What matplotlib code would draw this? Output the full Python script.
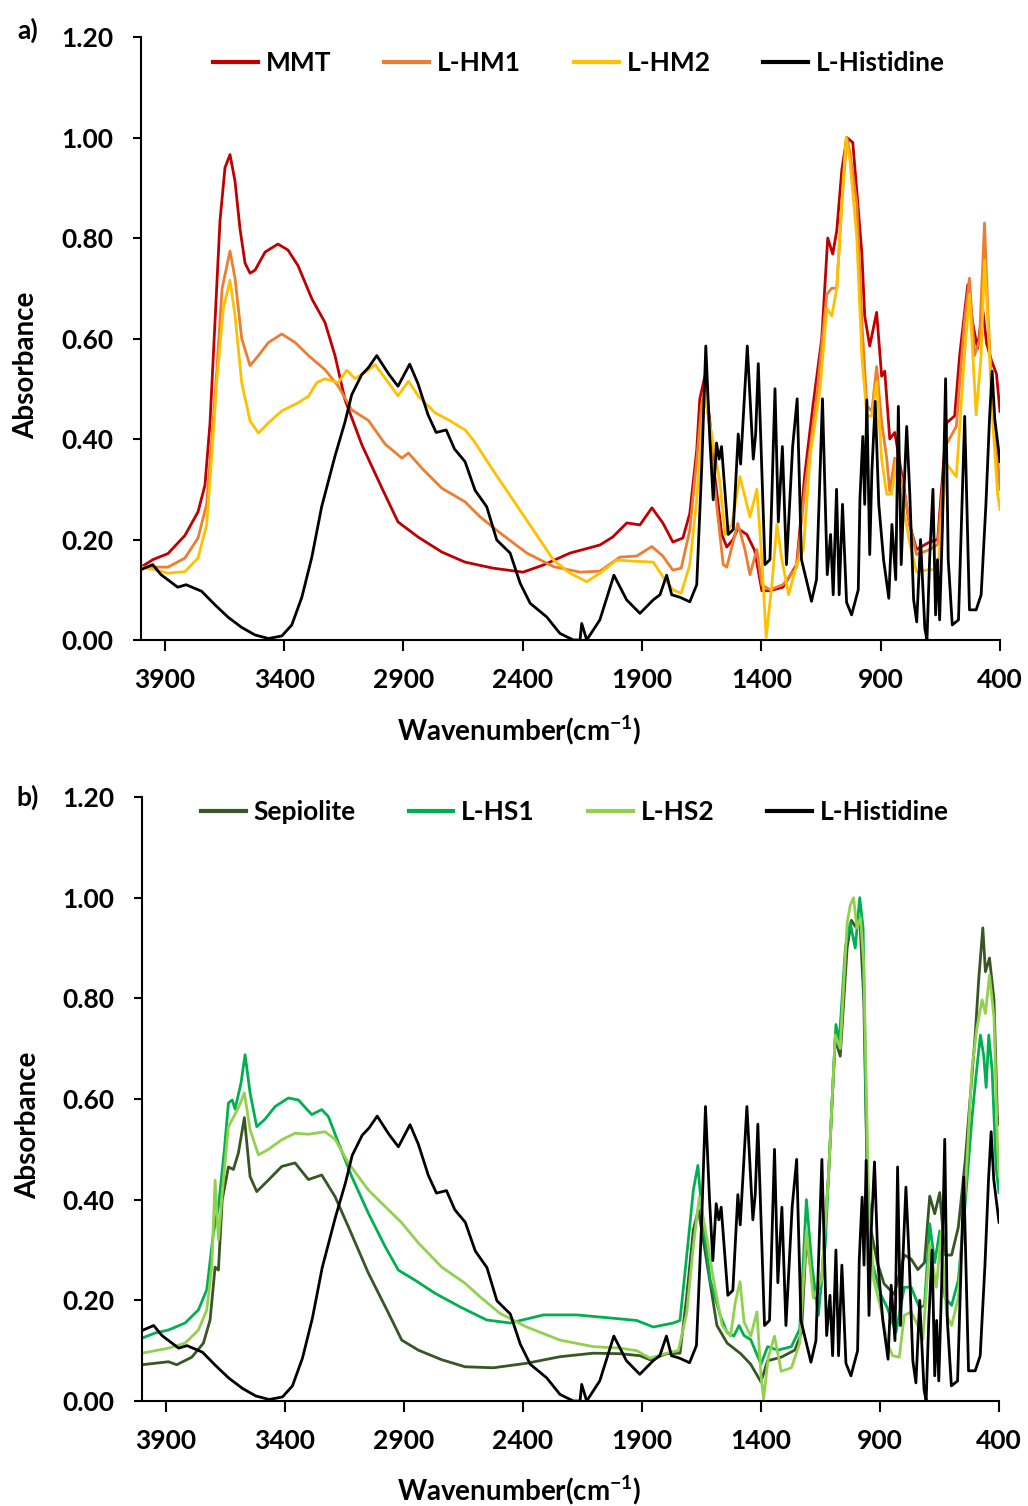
import matplotlib
matplotlib.use("Agg")
import matplotlib.pyplot as plt

plt.rcParams['font.family'] = ['Lato', 'DejaVu Sans']
plt.rcParams['font.weight'] = 'bold'
plt.rcParams['mathtext.fontset'] = 'custom'
plt.rcParams['mathtext.rm'] = 'Lato:bold'
plt.rcParams['mathtext.default'] = 'rm'

# spectra: (wavenumber, absorbance)
mmt = [(4000, 0.145), (3950, 0.160), (3887, 0.172), (3816, 0.208), (3761, 0.255), (3732, 0.308),
       (3711, 0.430), (3690, 0.632), (3669, 0.834), (3648, 0.940), (3627, 0.966), (3606, 0.913),
       (3585, 0.818), (3564, 0.750), (3543, 0.730), (3522, 0.736), (3480, 0.772), (3426, 0.788),
       (3384, 0.776), (3342, 0.745), (3283, 0.678), (3229, 0.632), (3187, 0.566), (3145, 0.478),
       (3074, 0.388), (2990, 0.302), (2923, 0.235), (2839, 0.205), (2739, 0.175), (2642, 0.155),
       (2525, 0.143), (2399, 0.135), (2315, 0.149), (2202, 0.173), (2077, 0.189), (2023, 0.205),
       (1964, 0.233), (1909, 0.229), (1859, 0.263), (1813, 0.233), (1771, 0.195), (1729, 0.203),
       (1700, 0.252), (1671, 0.378), (1658, 0.480), (1637, 0.525), (1616, 0.435), (1595, 0.325),
       (1566, 0.210), (1545, 0.185), (1519, 0.200), (1499, 0.222), (1461, 0.210), (1428, 0.178),
       (1398, 0.098), (1365, 0.098), (1310, 0.105), (1252, 0.150), (1218, 0.330), (1184, 0.466),
       (1147, 0.600), (1122, 0.800), (1101, 0.768), (1084, 0.815), (1063, 0.935), (1042, 1.000),
       (1017, 0.990), (996, 0.869), (979, 0.770), (967, 0.645), (946, 0.585), (917, 0.652),
       (896, 0.525), (883, 0.535), (862, 0.400), (841, 0.413), (812, 0.330), (779, 0.230),
       (750, 0.180), (695, 0.195), (661, 0.200), (624, 0.432), (590, 0.446), (569, 0.567),
       (535, 0.707), (515, 0.632), (494, 0.580), (473, 0.660), (456, 0.590), (435, 0.555),
       (415, 0.530), (400, 0.455)]

lhm1 = [(4000, 0.145), (3887, 0.145), (3816, 0.163), (3761, 0.203), (3725, 0.270), (3704, 0.397),
        (3683, 0.532), (3660, 0.700), (3627, 0.774), (3606, 0.720), (3578, 0.600), (3543, 0.546),
        (3508, 0.566), (3466, 0.592), (3410, 0.609), (3354, 0.592), (3298, 0.566), (3229, 0.538),
        (3173, 0.505), (3117, 0.458), (3047, 0.437), (2977, 0.390), (2907, 0.362), (2879, 0.372),
        (2823, 0.342), (2739, 0.302), (2642, 0.275), (2579, 0.245), (2495, 0.213), (2383, 0.173),
        (2271, 0.146), (2160, 0.135), (2077, 0.137), (1993, 0.165), (1923, 0.167), (1859, 0.186),
        (1813, 0.167), (1771, 0.139), (1736, 0.143), (1700, 0.219), (1671, 0.358), (1650, 0.470),
        (1637, 0.500), (1616, 0.420), (1595, 0.300), (1560, 0.150), (1545, 0.145), (1499, 0.232),
        (1469, 0.180), (1448, 0.130), (1419, 0.180), (1398, 0.110), (1365, 0.100), (1310, 0.110),
        (1252, 0.145), (1218, 0.300), (1168, 0.486), (1126, 0.688), (1105, 0.700), (1084, 0.700),
        (1063, 0.869), (1042, 1.000), (1029, 0.970), (1000, 0.869), (979, 0.634), (958, 0.466),
        (937, 0.455), (917, 0.544), (896, 0.433), (875, 0.362), (862, 0.296), (841, 0.362),
        (808, 0.315), (778, 0.230), (750, 0.170), (695, 0.180), (661, 0.190), (624, 0.390),
        (583, 0.425), (549, 0.634), (528, 0.720), (507, 0.566), (486, 0.596), (465, 0.830),
        (452, 0.667), (431, 0.466), (410, 0.362), (400, 0.300)]

lhm2 = [(4000, 0.145), (3942, 0.140), (3887, 0.133), (3816, 0.136), (3761, 0.163), (3725, 0.229),
        (3704, 0.362), (3683, 0.512), (3655, 0.660), (3627, 0.716), (3606, 0.646), (3578, 0.512),
        (3543, 0.436), (3508, 0.412), (3466, 0.432), (3410, 0.456), (3342, 0.472), (3298, 0.485),
        (3264, 0.512), (3229, 0.520), (3173, 0.512), (3138, 0.537), (3103, 0.520), (3047, 0.537),
        (3019, 0.548), (2963, 0.512), (2923, 0.486), (2879, 0.515), (2837, 0.485), (2767, 0.452),
        (2711, 0.438), (2642, 0.418), (2607, 0.398), (2525, 0.338), (2441, 0.279), (2356, 0.219),
        (2271, 0.159), (2202, 0.133), (2132, 0.116), (2077, 0.133), (2007, 0.159), (1937, 0.157),
        (1853, 0.155), (1813, 0.126), (1771, 0.100), (1736, 0.093), (1700, 0.150), (1671, 0.279),
        (1650, 0.420), (1637, 0.490), (1602, 0.390), (1574, 0.315), (1552, 0.210), (1524, 0.230),
        (1490, 0.325), (1448, 0.245), (1419, 0.300), (1398, 0.160), (1380, 0.005), (1356, 0.110),
        (1335, 0.230), (1314, 0.160), (1286, 0.090), (1252, 0.150), (1224, 0.180), (1196, 0.365),
        (1154, 0.500), (1126, 0.660), (1105, 0.645), (1084, 0.700), (1063, 0.870), (1045, 1.000),
        (1029, 0.955), (1000, 0.800), (979, 0.566), (958, 0.446), (937, 0.446), (917, 0.514),
        (896, 0.360), (875, 0.290), (854, 0.290), (833, 0.360), (808, 0.270), (779, 0.195),
        (750, 0.135), (700, 0.140), (661, 0.140), (624, 0.350), (583, 0.325), (549, 0.566),
        (528, 0.688), (500, 0.448), (479, 0.566), (465, 0.755), (452, 0.646), (431, 0.440),
        (410, 0.290), (400, 0.260)]

histidine = [(4000, 0.140), (3951, 0.150), (3916, 0.130), (3846, 0.105), (3811, 0.110), (3746, 0.097),
             (3690, 0.070), (3634, 0.045), (3578, 0.025), (3522, 0.010), (3466, 0.003), (3410, 0.008),
             (3368, 0.030), (3326, 0.085), (3284, 0.165), (3243, 0.265), (3187, 0.366), (3145, 0.434),
             (3117, 0.488), (3075, 0.528), (3047, 0.542), (3012, 0.566), (2963, 0.530), (2923, 0.505),
             (2874, 0.549), (2839, 0.510), (2797, 0.448), (2763, 0.413), (2721, 0.418), (2686, 0.380),
             (2642, 0.355), (2600, 0.298), (2551, 0.265), (2509, 0.199), (2453, 0.173), (2411, 0.113),
             (2369, 0.073), (2300, 0.046), (2244, 0.013), (2188, 0.000), (2160, 0.000), (2153, 0.033),
             (2132, 0.000), (2077, 0.040), (2018, 0.129), (1965, 0.080), (1909, 0.053), (1853, 0.080),
             (1825, 0.090), (1797, 0.129), (1776, 0.090), (1741, 0.085), (1700, 0.076), (1671, 0.110),
             (1650, 0.345), (1633, 0.585), (1616, 0.400), (1602, 0.279), (1588, 0.392), (1577, 0.360),
             (1567, 0.385), (1539, 0.210), (1518, 0.220), (1497, 0.410), (1487, 0.350), (1459, 0.585),
             (1434, 0.360), (1424, 0.410), (1413, 0.550), (1385, 0.150), (1364, 0.160), (1343, 0.500),
             (1329, 0.235), (1312, 0.385), (1295, 0.150), (1269, 0.385), (1250, 0.480), (1232, 0.160),
             (1190, 0.077), (1169, 0.120), (1144, 0.480), (1124, 0.130), (1110, 0.210), (1099, 0.090),
             (1085, 0.300), (1074, 0.090), (1060, 0.270), (1043, 0.075), (1022, 0.050), (1008, 0.075),
             (994, 0.100), (987, 0.280), (975, 0.405), (967, 0.270), (958, 0.478), (946, 0.170),
             (937, 0.335), (923, 0.475), (908, 0.270), (888, 0.160), (866, 0.083), (853, 0.230),
             (837, 0.120), (826, 0.465), (814, 0.150), (803, 0.290), (791, 0.425), (778, 0.290),
             (762, 0.080), (749, 0.036), (733, 0.200), (715, 0.023), (706, 0.000), (695, 0.160),
             (681, 0.300), (670, 0.050), (662, 0.160), (653, 0.040), (641, 0.230), (628, 0.520),
             (617, 0.160), (600, 0.030), (574, 0.040), (548, 0.445), (528, 0.060), (500, 0.060),
             (479, 0.090), (459, 0.270), (444, 0.440), (433, 0.535), (422, 0.440), (400, 0.355)]

sepiolite = [(4000, 0.072), (3889, 0.078), (3854, 0.072), (3791, 0.087), (3742, 0.115), (3714, 0.161),
             (3693, 0.266), (3679, 0.260), (3663, 0.400), (3637, 0.465), (3616, 0.460), (3595, 0.493),
             (3570, 0.563), (3546, 0.446), (3518, 0.416), (3469, 0.439), (3413, 0.466), (3357, 0.473),
             (3301, 0.440), (3245, 0.449), (3189, 0.406), (3133, 0.346), (3049, 0.254), (2965, 0.175),
             (2909, 0.121), (2839, 0.101), (2741, 0.082), (2643, 0.068), (2524, 0.066), (2384, 0.075),
             (2244, 0.088), (2104, 0.095), (1992, 0.094), (1908, 0.090), (1866, 0.082), (1796, 0.094),
             (1740, 0.095), (1712, 0.207), (1684, 0.340), (1663, 0.380), (1627, 0.275), (1585, 0.150),
             (1542, 0.115), (1485, 0.094), (1443, 0.073), (1400, 0.038), (1372, 0.080), (1315, 0.087),
             (1258, 0.101), (1230, 0.135), (1209, 0.324), (1173, 0.205), (1145, 0.240), (1116, 0.449),
             (1088, 0.720), (1067, 0.685), (1038, 0.900), (1020, 0.955), (1004, 0.943), (985, 0.960),
             (968, 0.797), (954, 0.450), (940, 0.345), (911, 0.275), (883, 0.233), (840, 0.212),
             (798, 0.290), (769, 0.282), (741, 0.261), (713, 0.275), (691, 0.407), (670, 0.372),
             (649, 0.414), (627, 0.290), (599, 0.290), (571, 0.345), (542, 0.477), (521, 0.602),
             (500, 0.727), (485, 0.839), (468, 0.940), (457, 0.853), (440, 0.880), (421, 0.797),
             (407, 0.567), (400, 0.550)]

lhs1 = [(4000, 0.125), (3945, 0.135), (3889, 0.141), (3819, 0.155), (3763, 0.181), (3728, 0.221),
        (3700, 0.334), (3679, 0.386), (3654, 0.499), (3637, 0.592), (3621, 0.598), (3609, 0.580),
        (3584, 0.632), (3567, 0.688), (3546, 0.612), (3518, 0.545), (3483, 0.560), (3441, 0.585),
        (3385, 0.602), (3343, 0.598), (3287, 0.569), (3245, 0.579), (3217, 0.565), (3175, 0.513),
        (3119, 0.446), (3049, 0.373), (2979, 0.307), (2923, 0.260), (2853, 0.240), (2769, 0.214),
        (2664, 0.187), (2552, 0.161), (2454, 0.155), (2314, 0.171), (2174, 0.171), (2034, 0.165),
        (1922, 0.160), (1852, 0.147), (1768, 0.155), (1740, 0.160), (1705, 0.320), (1684, 0.419),
        (1665, 0.468), (1649, 0.380), (1613, 0.240), (1571, 0.170), (1542, 0.136), (1514, 0.129),
        (1492, 0.150), (1471, 0.130), (1443, 0.122), (1400, 0.073), (1372, 0.108), (1329, 0.101),
        (1272, 0.108), (1237, 0.143), (1209, 0.400), (1187, 0.275), (1159, 0.170), (1130, 0.310),
        (1102, 0.588), (1085, 0.748), (1071, 0.714), (1045, 0.902), (1025, 0.950), (1004, 0.900),
        (985, 1.000), (971, 0.940), (954, 0.450), (933, 0.275), (897, 0.212), (869, 0.185),
        (833, 0.136), (798, 0.226), (769, 0.226), (734, 0.185), (713, 0.190), (691, 0.352),
        (670, 0.275), (649, 0.338), (627, 0.205), (599, 0.190), (571, 0.240), (542, 0.393),
        (514, 0.560), (497, 0.644), (478, 0.727), (464, 0.685), (454, 0.623), (443, 0.727),
        (429, 0.658), (412, 0.463), (400, 0.414)]

lhs2 = [(4000, 0.095), (3889, 0.105), (3819, 0.115), (3763, 0.141), (3728, 0.181), (3707, 0.266),
        (3693, 0.439), (3679, 0.320), (3663, 0.413), (3637, 0.545), (3609, 0.570), (3588, 0.590),
        (3570, 0.612), (3546, 0.539), (3511, 0.489), (3469, 0.500), (3413, 0.519), (3357, 0.532),
        (3301, 0.530), (3231, 0.535), (3189, 0.520), (3133, 0.473), (3049, 0.419), (2965, 0.380),
        (2909, 0.354), (2839, 0.314), (2741, 0.266), (2643, 0.234), (2580, 0.207), (2496, 0.174),
        (2384, 0.147), (2244, 0.121), (2104, 0.108), (1992, 0.105), (1922, 0.100), (1866, 0.085),
        (1796, 0.095), (1747, 0.100), (1712, 0.174), (1684, 0.307), (1659, 0.406), (1627, 0.324),
        (1599, 0.240), (1563, 0.150), (1528, 0.129), (1507, 0.198), (1488, 0.237), (1471, 0.157),
        (1443, 0.129), (1417, 0.177), (1400, 0.052), (1389, 0.004), (1369, 0.087), (1343, 0.129),
        (1315, 0.059), (1272, 0.066), (1237, 0.115), (1209, 0.338), (1180, 0.205), (1145, 0.240),
        (1116, 0.449), (1088, 0.727), (1067, 0.700), (1038, 0.950), (1025, 0.985), (1011, 1.000),
        (997, 0.940), (982, 0.960), (968, 0.867), (947, 0.380), (926, 0.240), (897, 0.185),
        (869, 0.115), (847, 0.090), (819, 0.087), (798, 0.170), (769, 0.177), (741, 0.150),
        (720, 0.122), (691, 0.310), (663, 0.226), (642, 0.338), (620, 0.170), (599, 0.150),
        (571, 0.205), (542, 0.414), (514, 0.658), (493, 0.741), (471, 0.797), (457, 0.770),
        (440, 0.846), (421, 0.762), (407, 0.520), (400, 0.450)]

panel_a = [("MMT", mmt, "#C00000"), ("L-HM1", lhm1, "#ED7D31"),
           ("L-HM2", lhm2, "#FFC000"), ("L-Histidine", histidine, "black")]
panel_b = [("Sepiolite", sepiolite, "#375623"), ("L-HS1", lhs1, "#00B050"),
           ("L-HS2", lhs2, "#92D050"), ("L-Histidine", histidine, "black")]

xticks = [3900, 3400, 2900, 2400, 1900, 1400, 900, 400]
yticks = [0.0, 0.2, 0.4, 0.6, 0.8, 1.0, 1.2]
fs = 19

fig = plt.figure(figsize=(10.28, 15.06), dpi=100)
ax_a = fig.add_axes([141 / 1028, 1 - 640 / 1506, 859 / 1028, 603 / 1506])
ax_b = fig.add_axes([142 / 1028, 1 - 1401 / 1506, 857 / 1028, 604 / 1506])


def draw(ax, series, leg_x, leg_y, lab_y):
    for name, pts, col in series:
        wn, ab = zip(*pts)
        ax.plot(wn, ab, color=col, lw=2.0, label=name)
    ax.set_xlim(4000, 400)
    ax.set_ylim(0, 1.2)
    ax.set_xticks(xticks)
    ax.set_yticks(yticks)
    ax.set_yticklabels(["%.2f" % v for v in yticks])
    for s in ["top", "right"]:
        ax.spines[s].set_visible(False)
    for s in ["left", "bottom"]:
        ax.spines[s].set_linewidth(1.5)
    ax.tick_params(axis="x", direction="out", length=8, width=1.5, pad=12, labelsize=fs)
    ax.tick_params(axis="y", direction="out", length=6, width=1.5, pad=14, labelsize=fs)
    for t in ax.get_xticklabels() + ax.get_yticklabels():
        t.set_fontweight("bold")
    ax.set_xlabel("Wavenumber(cm$^{-1}$)", fontsize=fs + 1, fontweight="bold")
    ax.set_ylabel("Absorbance", fontsize=fs + 1, fontweight="bold")
    ax.xaxis.set_label_coords(0.44, lab_y)
    ax.yaxis.set_label_coords(-0.118, 0.456)
    leg = ax.legend(loc="center", bbox_to_anchor=(leg_x, leg_y), ncol=4, frameon=False,
                    fontsize=fs, handlelength=1.7, handletextpad=0.3, columnspacing=2.0)
    for line in leg.get_lines():
        line.set_linewidth(3)


draw(ax_a, panel_a, 0.51, 0.957, -0.122)
draw(ax_b, panel_b, 0.505, 0.975, -0.120)

fig.text(28 / 1028, 1 - 30 / 1506, "a)", fontsize=fs, fontweight="bold", ha="center", va="center")
fig.text(28 / 1028, 1 - 797 / 1506, "b)", fontsize=fs, fontweight="bold", ha="center", va="center")

fig.savefig("out.png", dpi=100)
